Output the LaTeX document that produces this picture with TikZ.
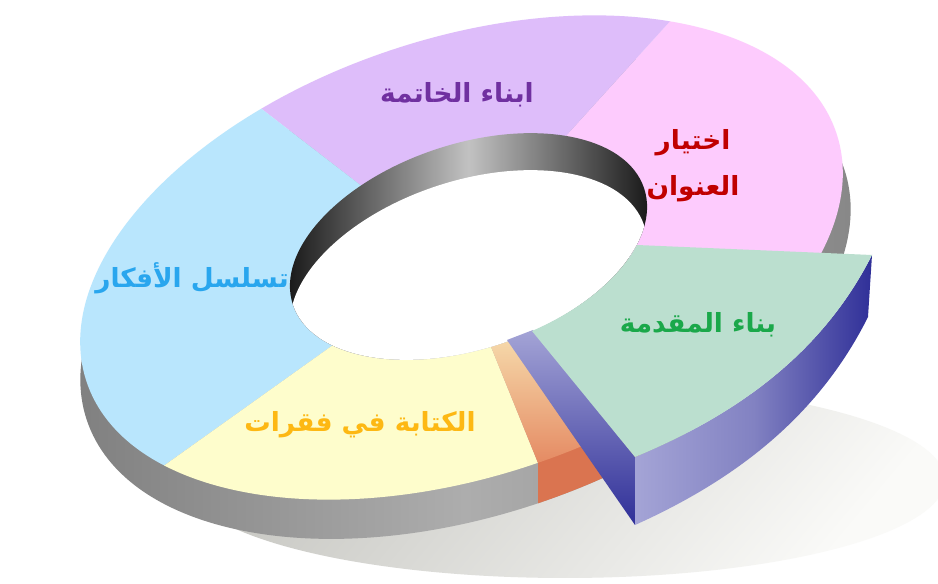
\documentclass[tikz,border=0pt]{standalone}
\usepackage{fontspec}
\newfontfamily\arabicfont[Script=Arabic]{DejaVu Sans}
\TeXXeTstate=1
\definecolor{cBlue}{HTML}{B9E6FD}
\definecolor{cPurple}{HTML}{DEBDFA}
\definecolor{cPink}{HTML}{FDCBFD}
\definecolor{cYellow}{HTML}{FEFDCC}
\definecolor{cGreen}{HTML}{BBDFCF}
\definecolor{tBlue}{HTML}{29A6EE}
\definecolor{tPurple}{HTML}{7030A0}
\definecolor{tRed}{HTML}{C00000}
\definecolor{tGreen}{HTML}{1AA84A}
\definecolor{tYellow}{HTML}{FDB813}
\definecolor{oTopA}{HTML}{F6DBAC}
\definecolor{oTopB}{HTML}{E4865F}
\definecolor{oSide}{HTML}{DA7450}
\definecolor{sideA}{HTML}{7E7E7E}
\definecolor{sideB}{HTML}{ADADAD}
\definecolor{sideC}{HTML}{868686}
\definecolor{lavA}{HTML}{A4A4D6}
\definecolor{lavB}{HTML}{8282C2}
\definecolor{lavC}{HTML}{2F2F98}
\definecolor{shadA}{HTML}{C6C6C1}
\definecolor{shadB}{HTML}{FAFAF8}
\begin{document}
\begin{tikzpicture}[x=0.02cm,y=-0.02cm,
  lbl/.style={font=\arabicfont\bfseries\fontsize{15}{26}\selectfont, inner sep=0pt, align=center},
  outerE/.style={x radius=395, y radius=219, rotate=18.3},
  innerE/.style={x radius=185, y radius=102.5, rotate=18.3},
  sideE/.style={x radius=399, y radius=221, rotate=18.3}]
\fill[white] (0,0) rectangle (938,584);
\useasboundingbox (0,0) rectangle (938,584);

% ground shadow
\shade[top color=shadA, bottom color=shadB, shading angle=50] (565,480) ellipse [x radius=380, y radius=98];

% outer side of the ring
\begin{scope}
  \clip (465.5,294.5) ellipse [sideE];
  \shade[left color=sideA, right color=sideC, middle color=sideB] (60,60) rectangle (870,560);
\end{scope}
\begin{scope}
  \clip (538,440) rectangle (640,600);
  \fill[oSide] (465.5,294.5) ellipse [sideE];
\end{scope}

% top surfaces
\begin{scope}
  \clip (455,258) -- (1915,258) -- (1327,-702) -- cycle;
  \fill[cPink] (461.5,257.5) ellipse [outerE];
\end{scope}
\begin{scope}
  \clip (455,258) -- (1327,-702) -- (-313,-334) -- cycle;
  \fill[cPurple] (461.5,257.5) ellipse [outerE];
\end{scope}
\begin{scope}
  \clip (455,258) -- (-313,-334) -- (-717,1094) -- cycle;
  \fill[cBlue] (461.5,257.5) ellipse [outerE];
\end{scope}
\begin{scope}
  \clip (455,258) -- (-717,1094) -- (787,1078) -- cycle;
  \fill[cYellow] (461.5,257.5) ellipse [outerE];
\end{scope}
\begin{scope}
  \clip (455,258) -- (787,1078) -- (1063,966) -- cycle;
  \clip (461.5,257.5) ellipse [outerE];
  \shade[top color=oTopA, bottom color=oTopB] (470,335) rectangle (660,470);
\end{scope}

% hole with inner wall
\begin{scope}
  \clip (468.5,246.5) ellipse [innerE];
  \shade[left color=black!92, right color=black!92, middle color=black!24] (283,130) rectangle (654,370);
  \fill[white] (468.5,283.5) ellipse [innerE];
\end{scope}

% exploded segment
\shade[top color=lavA, bottom color=lavC] (507,340) -- (533,330) -- (635,457) -- (635,525) -- cycle;
\shade[left color=lavA, right color=lavC, middle color=lavB]
  (635,457) .. controls (736,415) and (822,354) .. (872,255)
  -- (868,317) .. controls (818,417) and (735,480) .. (635,525) -- cycle;
\fill[cGreen] (532,331) -- (635,457) .. controls (736,415) and (822,354) .. (872,255)
  -- (637,245) .. controls (619.3,278.5) and (580.5,310.1) .. (532,331) -- cycle;

% labels
\node[lbl,text=tPurple] (lblC) at (457,95) {\beginR ابناء الخاتمة\endR};
\node[lbl,text=tRed] (lblT) at (693,166) {\beginR اختيار\endR\\\beginR العنوان\endR};
\node[lbl,text=tBlue] (lblS) at (192,278) {\beginR تسلسل الأفكار\endR};
\node[lbl,text=tYellow] (lblP) at (360,425) {\beginR الكتابة في فقرات\endR};
\node[lbl,text=tGreen] (lblI) at (698,325) {\beginR بناء المقدمة\endR};
\end{tikzpicture}
\end{document}
